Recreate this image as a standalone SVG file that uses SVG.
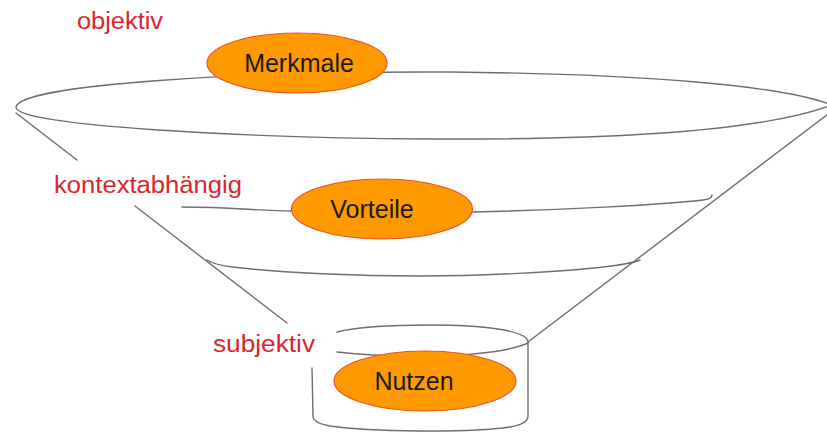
<svg xmlns="http://www.w3.org/2000/svg" width="827" height="436" viewBox="0 0 827 436">
<style>
.ln{fill:none;stroke:#6e6e6e;stroke-width:1.4;stroke-linecap:round}
.nd{fill:#FF9900;stroke:#E8542A;stroke-width:1.2}
.nt{font-family:"Liberation Sans",Arial,sans-serif;font-size:25px;fill:#1a1a1a;text-anchor:middle}
.lb{font-family:"Liberation Sans",Arial,sans-serif;font-size:23.5px;fill:#D9262E}
</style>
<rect width="827" height="436" fill="#ffffff"/>
<g id="connectors">
<path class="ln" d="M 829,104 C 780,86 650,74 450,72 C 250,71 20,84 16,107 C 14,126 250,138 430,139 C 620,140 760,131 829,106"/>
<path class="ln" d="M 16,113 L 77,160"/>
<path class="ln" d="M 135,206 L 287,323"/>
<path class="ln" d="M 828,114 L 528,342"/>
<path class="ln" d="M 182,207 C 230,207 260,211 292,211"/>
<path class="ln" d="M 473,212 C 560,210 660,205 703,200 Q 712,199 712,195"/>
<path class="ln" d="M 207,260 Q 215,265 233,267 C 280,273 360,276 420,276 C 480,276 560,272 603,267 Q 630,264 640,260"/>
<path class="ln" d="M 337,332 C 360,326 400,325 430,325 C 480,325 528,330 528,342"/>
<path class="ln" d="M 337,352 C 380,357 490,360 528,343"/>
<path class="ln" d="M 312,368 L 313,416 Q 313,423 330,426 C 370,432 470,433 510,427 Q 528,424 528,416 L 528,342"/>
</g>
<g id="merkmale">
<ellipse class="nd" cx="297" cy="63" rx="90" ry="30"/>
<text class="nt" x="299" y="72">Merkmale</text>
</g>
<g id="vorteile">
<ellipse class="nd" cx="382" cy="209" rx="90.5" ry="30"/>
<text class="nt" x="372" y="218">Vorteile</text>
</g>
<g id="nutzen">
<ellipse class="nd" cx="425" cy="381" rx="91" ry="30"/>
<text class="nt" x="414" y="390">Nutzen</text>
</g>
<g id="labels">
<text class="lb" x="77" y="29" textLength="86" lengthAdjust="spacingAndGlyphs">objektiv</text>
<text class="lb" x="54" y="193" textLength="188" lengthAdjust="spacingAndGlyphs">kontextabhängig</text>
<text class="lb" x="213" y="352" textLength="102" lengthAdjust="spacingAndGlyphs">subjektiv</text>
</g>
</svg>
